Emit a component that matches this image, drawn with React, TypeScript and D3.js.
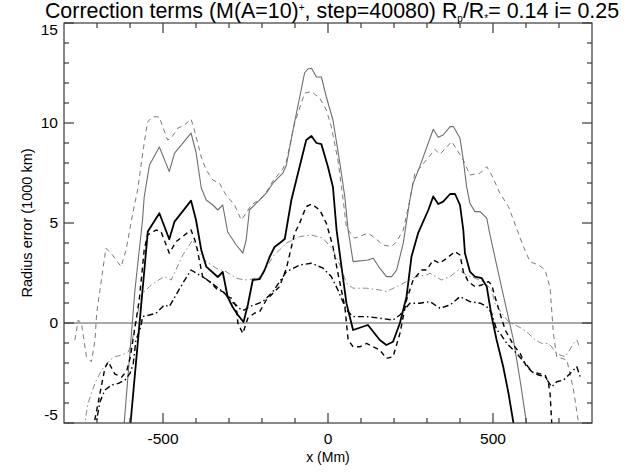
import React, { useEffect, useRef } from "react";
import * as d3 from "d3";

const W = 641;
const H = 472;
const margin = { top: 23, right: 49, bottom: 49, left: 64 };
const FONT = "'Liberation Sans', Arial, Helvetica, sans-serif";

// axis ranges and ticks
const xDomain = [-800, 800];
const yDomain = [-5, 15];
const xMajorTicks = [-500, 0, 500];
const xMinorTicks = [-700, -600, -400, -300, -200, -100, 100, 200, 300, 400, 600, 700];
const yMajorTicks = [-5, 0, 5, 10, 15];
const yMinorTicks = [-4, -3, -2, -1, 1, 2, 3, 4, 6, 7, 8, 9, 11, 12, 13, 14];

// series: [x (Mm), radius error (1000 km)]
const solidBlack: [number, number][] = [
  [-600, -5.3], [-546, 4.57], [-511, 5.49], [-481, 4.19], [-465, 5.07], [-415, 6.12],
  [-400, 5.15], [-384, 3.65], [-369, 2.82], [-334, 2.3], [-319, 2.55], [-304, 1.3],
  [-289, 0.8], [-273, 0.4], [-256, 0.05], [-243, 0.9], [-228, 2.15], [-207, 2.2],
  [-192, 2.65], [-177, 3.3], [-162, 3.8], [-146, 4.0], [-131, 4.2], [-111, 6.15],
  [-96, 7.15], [-66, 9.15], [-50, 9.35], [-35, 9.0], [-20, 8.94], [0, 7.8],
  [15, 6.8], [26, 4.65], [41, 2.8], [56, 0.98], [76, -0.35], [121, -0.1],
  [157, -0.85], [177, -1.1], [197, -0.94], [218, 0.0], [238, 1.32], [253, 3.32],
  [273, 4.49], [304, 5.65], [319, 6.33], [334, 5.95], [349, 6.07], [370, 6.45],
  [385, 6.45], [400, 5.9], [410, 4.65], [415, 3.49], [430, 2.57], [445, 2.32],
  [466, 2.24], [481, 1.82], [496, 0.32], [511, -0.85], [531, -2.19], [547, -3.52],
  [565, -5.3],
];

const solidGray: [number, number][] = [
  [-620, -5.5], [-585, 1.65], [-562, 5.15], [-557, 6.3], [-541, 7.9], [-511, 8.8],
  [-481, 7.57], [-465, 8.49], [-440, 8.99], [-415, 9.49], [-400, 8.55], [-384, 6.75],
  [-369, 6.15], [-349, 5.9], [-334, 5.65], [-319, 5.9], [-304, 4.55], [-288, 4.15],
  [-278, 3.9], [-258, 3.49], [-248, 4.15], [-238, 5.65], [-217, 5.99], [-187, 6.49],
  [-167, 6.99], [-137, 7.49], [-126, 7.9], [-106, 9.65], [-71, 12.5], [-61, 12.7],
  [-50, 12.74], [-35, 12.3], [-20, 12.3], [-5, 11.3], [15, 10.15], [36, 7.99],
  [51, 6.3], [61, 4.65], [76, 3.07], [121, 3.15], [137, 3.24], [157, 2.74],
  [177, 2.32], [193, 2.32], [208, 2.65], [228, 3.99], [248, 6.15], [258, 6.99],
  [278, 7.82], [319, 9.69], [334, 9.29], [349, 9.4], [370, 9.82], [380, 9.82],
  [400, 9.24], [410, 8.15], [420, 6.82], [430, 5.99], [445, 5.57], [461, 5.57],
  [481, 5.24], [491, 4.4], [521, 2.15], [562, -0.85], [582, -2.85], [605, -5.4],
];

const dashedGray: [number, number][] = [
  [-767, -0.85], [-757, 0.15], [-747, -0.02], [-732, -1.69], [-717, -1.94], [-706, -0.85],
  [-701, 0.49], [-673, 3.74], [-653, 3.4], [-627, 2.82], [-612, 3.65], [-592, 5.45],
  [-577, 6.65], [-567, 7.82], [-557, 8.99], [-547, 10.05], [-531, 10.32], [-511, 10.3],
  [-501, 9.82], [-486, 9.15], [-475, 9.25], [-455, 9.74], [-435, 9.9], [-415, 10.2],
  [-405, 9.65], [-384, 8.3], [-369, 7.65], [-349, 7.15], [-329, 6.99], [-309, 6.4],
  [-283, 5.9], [-263, 5.15], [-248, 5.49], [-233, 5.9], [-217, 6.07], [-192, 6.4],
  [-167, 7.1], [-137, 7.7], [-126, 8.1], [-101, 9.99], [-71, 11.49], [-50, 11.57],
  [-25, 11.24], [-5, 10.65], [10, 9.82], [30, 8.15], [46, 6.15], [56, 4.75],
  [81, 4.24], [121, 4.49], [137, 4.32], [167, 3.9], [193, 3.82], [208, 4.07],
  [228, 4.65], [248, 6.15], [263, 7.49], [278, 7.74], [324, 8.68], [339, 8.43],
  [375, 9.07], [410, 8.15], [430, 7.4], [461, 7.49], [481, 7.82], [496, 7.4],
  [521, 6.49], [547, 5.82], [562, 5.15], [592, 3.82], [612, 3.07], [638, 2.9],
  [658, 2.65], [673, 1.75], [683, -0.52], [693, -1.69], [724, -1.85], [744, -3.35],
  [762, -5.3],
];

const dashedBlack: [number, number][] = [
  [-712, -5.3], [-676, -2.25], [-666, -1.94], [-646, -2.55], [-625, -2.7], [-610, -2.4],
  [-599, -1.7], [-587, -0.43], [-572, 1.15], [-557, 3.65], [-547, 4.4], [-521, 4.65],
  [-506, 4.57], [-481, 3.49], [-460, 4.07], [-415, 4.65], [-400, 3.99], [-380, 2.32],
  [-359, 2.07], [-334, 1.65], [-319, 1.57], [-304, 1.32], [-293, 1.24], [-278, 0.82],
  [-273, -0.02], [-258, -0.52], [-243, 0.24], [-223, 0.49], [-207, 0.57], [-187, 1.15],
  [-167, 1.49], [-147, 1.82], [-126, 2.74], [-101, 4.49], [-86, 4.99], [-66, 5.82],
  [-50, 5.95], [-25, 5.65], [-5, 4.99], [15, 3.82], [30, 2.49], [51, 0.82],
  [61, -0.85], [76, -1.19], [96, -1.19], [117, -1.02], [137, -1.19], [157, -1.35],
  [177, -1.77], [197, -1.69], [218, -0.52], [238, 1.15], [258, 2.15], [284, 2.65],
  [299, 2.65], [319, 3.15], [339, 2.99], [360, 3.24], [385, 3.57], [400, 3.4],
  [410, 2.57], [425, 2.07], [445, 1.82], [466, 1.9], [486, 2.07], [496, 1.9],
  [506, 1.32], [521, 0.49], [537, -0.35], [562, -1.1], [582, -1.52], [602, -2.19],
  [618, -2.44], [638, -2.52], [658, -2.6], [668, -3.02], [673, -3.52], [679, -5.3],
];

const dashDotGray: [number, number][] = [
  [-740, -5.3], [-727, -4.0], [-706, -3.0], [-686, -2.35], [-661, -1.85], [-646, -1.69],
  [-625, -1.6], [-605, -1.44], [-595, -1.02], [-585, -0.19], [-577, 0.49], [-562, 1.49],
  [-541, 1.82], [-521, 2.07], [-496, 2.32], [-475, 2.15], [-440, 3.4], [-410, 4.15],
  [-390, 3.49], [-369, 3.07], [-339, 2.74], [-309, 2.57], [-278, 2.24], [-253, 2.15],
  [-233, 2.19], [-202, 2.32], [-167, 3.32], [-126, 3.99], [-86, 4.32], [-50, 4.4],
  [-15, 4.24], [15, 3.65], [36, 2.9], [56, 1.99], [76, 1.74], [117, 1.74],
  [157, 1.65], [177, 1.57], [208, 1.82], [238, 2.07], [268, 2.32], [299, 2.4],
  [309, 2.49], [344, 2.15], [370, 2.32], [395, 2.65], [420, 2.4], [445, 2.24],
  [471, 2.07], [496, 1.65], [506, 0.99], [526, 0.49], [547, 0.07], [567, -0.1],
  [587, -0.27], [607, -0.52], [628, -0.85], [648, -1.02], [668, -1.02], [678, -1.19],
  [688, -1.44], [703, -1.6], [719, -1.69], [729, -1.44], [744, -1.02], [754, -0.85],
  [764, -1.27],
];

const dashDotBlack: [number, number][] = [
  [-706, -5.3], [-691, -3.94], [-676, -3.35], [-656, -3.1], [-635, -3.02], [-615, -2.85],
  [-600, -2.52], [-590, -2.02], [-582, -0.85], [-567, -0.19], [-562, 0.32], [-541, 0.4],
  [-521, 0.49], [-496, 0.9], [-481, 0.82], [-440, 1.99], [-415, 2.65], [-390, 2.4],
  [-364, 2.15], [-339, 1.82], [-314, 1.5], [-293, 1.07], [-278, 0.9], [-263, 0.65],
  [-253, 0.65], [-238, 0.82], [-223, 0.9], [-197, 1.07], [-167, 1.57], [-126, 2.57],
  [-86, 2.9], [-50, 2.99], [-15, 2.74], [10, 2.32], [30, 1.65], [56, 0.65],
  [76, 0.32], [117, 0.32], [157, 0.24], [197, 0.15], [218, 0.4], [248, 0.99],
  [278, 0.99], [309, 1.07], [339, 0.74], [370, 0.9], [400, 1.32], [430, 1.07],
  [461, 0.99], [481, 0.82], [496, 0.49], [511, -0.35], [521, -0.5], [542, -1.02],
  [552, -1.19], [572, -1.52], [602, -2.1], [618, -2.44], [638, -2.6], [658, -2.69],
  [678, -3.19], [693, -2.94], [714, -2.85], [729, -2.6], [744, -2.35], [754, -2.19],
  [764, -2.69],
];

const seriesStyles = [
  { data: dashedGray, color: "#7a7a7a", width: 1, dash: "5,4" },
  { data: dashDotGray, color: "#8a8a8a", width: 1, dash: "6,3,1.5,3" },
  { data: solidGray, color: "#6e6e6e", width: 1.1, dash: null },
  { data: dashDotBlack, color: "#000", width: 1.4, dash: "6,3,1.5,3" },
  { data: dashedBlack, color: "#000", width: 1.4, dash: "5,4" },
  { data: solidBlack, color: "#000", width: 1.8, dash: null },
];

const App = () => {
  const svgRef = useRef<SVGSVGElement>(null);

  useEffect(() => {
    const svg = d3.select(svgRef.current);
    svg.selectAll("*").remove();

    const x = d3.scaleLinear().domain(xDomain).range([margin.left, W - margin.right]);
    const y = d3.scaleLinear().domain(yDomain).range([H - margin.bottom, margin.top]);

    svg.append("rect").attr("width", W).attr("height", H).attr("fill", "#fff");

    svg.append("clipPath").attr("id", "plot-clip")
      .append("rect")
      .attr("x", margin.left).attr("y", margin.top)
      .attr("width", W - margin.left - margin.right)
      .attr("height", H - margin.top - margin.bottom);

    // zero line
    svg.append("line")
      .attr("x1", x(xDomain[0])).attr("x2", x(xDomain[1]))
      .attr("y1", y(0)).attr("y2", y(0))
      .attr("stroke", "#555").attr("stroke-width", 1.2);

    // curves
    const line = d3.line<[number, number]>().x(d => x(d[0])).y(d => y(d[1]));
    const g = svg.append("g").attr("clip-path", "url(#plot-clip)");
    seriesStyles.forEach(s => {
      g.append("path")
        .attr("d", line(s.data))
        .attr("fill", "none")
        .attr("stroke", s.color)
        .attr("stroke-width", s.width)
        .attr("stroke-dasharray", s.dash)
        .attr("stroke-linejoin", "round");
    });

    // frame
    const frameColor = "#3a3a3a";
    svg.append("rect")
      .attr("x", margin.left).attr("y", margin.top)
      .attr("width", W - margin.left - margin.right)
      .attr("height", H - margin.top - margin.bottom)
      .attr("fill", "none").attr("stroke", frameColor).attr("stroke-width", 1.2);

    // ticks on all four sides, pointing inward
    const ticks = svg.append("g").attr("stroke", frameColor).attr("stroke-width", 1.2);
    const xt = (vals: number[], len: number) => vals.forEach(v => {
      ticks.append("line").attr("x1", x(v)).attr("x2", x(v))
        .attr("y1", y(yDomain[0])).attr("y2", y(yDomain[0]) - len);
      ticks.append("line").attr("x1", x(v)).attr("x2", x(v))
        .attr("y1", y(yDomain[1])).attr("y2", y(yDomain[1]) + len);
    });
    xt(xMajorTicks, 10);
    xt(xMinorTicks, 5);
    const yt = (vals: number[], len: number) => vals.forEach(v => {
      ticks.append("line").attr("y1", y(v)).attr("y2", y(v))
        .attr("x1", x(xDomain[0])).attr("x2", x(xDomain[0]) + len);
      ticks.append("line").attr("y1", y(v)).attr("y2", y(v))
        .attr("x1", x(xDomain[1])).attr("x2", x(xDomain[1]) - len);
    });
    yt(yMajorTicks, 10);
    yt(yMinorTicks, 5);

    // tick labels (the end labels sit slightly inside the frame, as in the reference)
    svg.append("g").selectAll("text").data(xMajorTicks).join("text")
      .attr("x", d => x(d)).attr("y", y(yDomain[0]) + 21)
      .attr("text-anchor", "middle")
      .style("font-family", FONT).style("font-size", "15.5px")
      .text(d => d);
    const yShift = (d: number) => (d === yDomain[1] ? 7 : d === yDomain[0] ? -8 : 0);
    svg.append("g").selectAll("text").data(yMajorTicks).join("text")
      .attr("x", x(xDomain[0]) - 6).attr("y", d => y(d) + 5 + yShift(d))
      .attr("text-anchor", "end")
      .style("font-family", FONT).style("font-size", "15.5px")
      .text(d => d);

    // axis titles
    svg.append("text")
      .attr("x", (margin.left + W - margin.right) / 2).attr("y", H - 10)
      .attr("text-anchor", "middle")
      .style("font-family", FONT).style("font-size", "14px")
      .text("x (Mm)");
    svg.append("text")
      .attr("transform", `translate(32,${(margin.top + H - margin.bottom) / 2}) rotate(-90)`)
      .attr("text-anchor", "middle")
      .style("font-family", FONT).style("font-size", "14.5px")
      .text("Radius error (1000 km)");

    // title
    const t = svg.append("text")
      .attr("x", 332).attr("y", 18)
      .attr("text-anchor", "middle")
      .style("font-family", FONT).style("font-size", "21.4px");
    t.append("tspan").text("Correction terms (M(A=10)");
    t.append("tspan").attr("dy", -7).style("font-size", "10px").text("+");
    t.append("tspan").attr("dy", 7).text(", step=40080) R");
    t.append("tspan").attr("dy", 4).style("font-size", "10px").text("p");
    t.append("tspan").attr("dy", -4).text("/R");
    t.append("tspan").attr("dy", 4).style("font-size", "10px").text("*");
    t.append("tspan").attr("dy", -4).text("= 0.14 i= 0.25");
  }, []);

  return (
    <div style={{ position: "absolute", left: 0, top: 0 }}>
      <svg ref={svgRef} width={W} height={H} />
    </div>
  );
};

export default App;
